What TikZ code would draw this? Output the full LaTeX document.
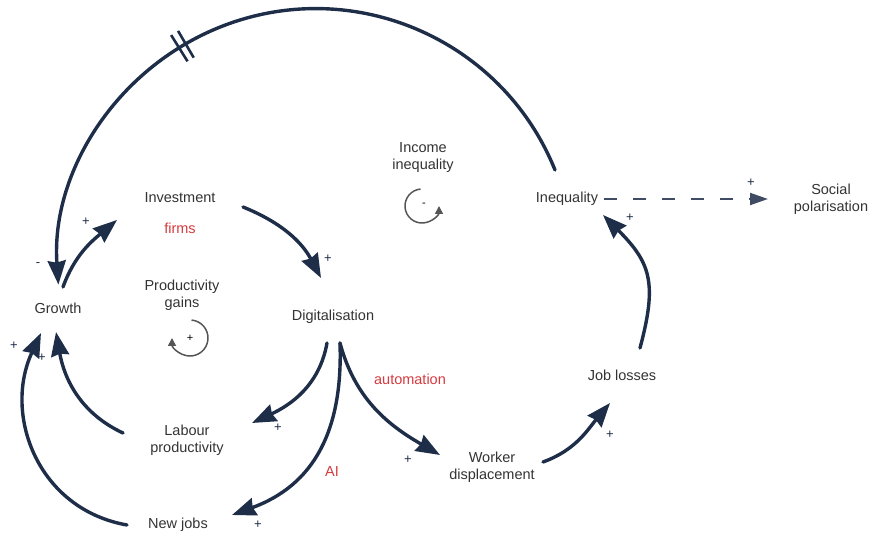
\documentclass[tikz,border=0pt]{standalone}
\usepackage{fontspec}
\setmainfont{Liberation Sans}
\usetikzlibrary{arrows.meta}

\definecolor{navy}{HTML}{1E2D48}
\definecolor{ink}{HTML}{333333}
\definecolor{note}{HTML}{D63A3E}
\definecolor{ring}{HTML}{555555}

\begin{document}
\begin{tikzpicture}[x=1pt,y=1pt,
  var/.style={align=center, font=\fontsize{14.5}{17}\selectfont, text=ink, inner sep=0pt},
  tag/.style={font=\fontsize{14.5}{17}\selectfont, text=note, inner sep=0pt},
  sign/.style={font=\fontsize{13}{13}\selectfont, text=navy, inner sep=0pt},
  ringsign/.style={font=\fontsize{11}{11}\selectfont, text=black, inner sep=0pt},
  link/.style={draw=navy, line width=3.4pt, line cap=round,
    -{Stealth[length=24pt 0,width=18pt 0,inset=2pt]}},
  weak/.style={draw=navy!85, line width=2pt, dash pattern=on 13pt off 16pt,
    -{Triangle[length=18pt 0,width=12pt 0]}},
  hash/.style={draw=navy, line width=2.6pt},
  ringline/.style={draw=ring, line width=1.5pt, -{Triangle[length=8pt 0,width=8pt 0]}}
]
\useasboundingbox (0,0) rectangle (871,536);

% variables
\node[var] (growth) at (58,228) {Growth};
\node[var] (invest) at (180,338) {Investment};
\node[tag] (firms)  at (180,308) {firms};
\node[var] (pgains) at (182,241) {Productivity\\gains};
\node[var] (digi)   at (333,219) {Digitalisation};
\node[tag] (autom)  at (410,157) {automation};
\node[var] (labour) at (187,96) {Labour\\productivity};
\node[tag] (ai)     at (332,64) {AI};
\node[var] (newjobs) at (178,11) {New jobs};
\node[var] (worker) at (492,69) {Worker\\displacement};
\node[var] (joblos) at (622,161) {Job losses};
\node[var] (ineq)   at (567,337) {Inequality};
\node[var] (social) at (831,337) {Social\\polarisation};
\node[var] (income) at (423,378) {Income\\inequality};

% loop markers
\coordinate (pg-ring) at (190,198);
\coordinate (ii-ring) at (422,330);
\draw[ringline] ([shift={(85:18)}]pg-ring) arc[start angle=85, end angle=-180, radius=18];
\node[ringsign] (pg-sign) at (pg-ring) {+};
\draw[ringline] ([shift={(95:17)}]ii-ring) arc[start angle=95, end angle=360, radius=17];
\node[ringsign] (ii-sign) at (424,331) {-};

% long delayed link from inequality back to growth
\coordinate (arc-start) at ([shift={(-12,29)}]ineq.center);
\coordinate (arc-ctr) at ([shift={(-239.2,-96.6)}]arc-start);
\draw[link] (arc-start) arc[start angle=22, end angle=184, radius=258];
\foreach \a in {120.3,122.0}
  \draw[hash] ([shift={(\a:242)}]arc-ctr) -- ([shift={(\a:273)}]arc-ctr);

% causal links
\draw[link] ([shift={(5,21)}]growth.center) to[out=70, in=-140] ([shift={(-63,-22)}]invest.center);
\draw[link] ([shift={(63,-9)}]invest.center) to[out=-22, in=118] ([shift={(-12,39)}]digi.center);
\draw[link] ([shift={(-6,-26)}]digi.center) to[out=-100, in=25] ([shift={(65,17)}]labour.center);
\draw[link] ([shift={(7,-26)}]digi.center) to[out=-88, in=20, looseness=1.1] ([shift={(54,10)}]newjobs.center);
\draw[link] ([shift={(7,-26)}]digi.center) to[out=-75, in=150] ([shift={(-52,12)}]worker.center);
\draw[link] ([shift={(51,5)}]worker.center) to[out=20, in=230] ([shift={(-12,-28)}]joblos.center);
\draw[link] ([shift={(18,27)}]joblos.center) to[out=75, in=-45, looseness=1.25] ([shift={(36,-16)}]ineq.center);
\draw[link] ([shift={(-64,7)}]labour.center) to[out=155, in=-80] ([shift={(-2,-24)}]growth.center);
\draw[link] ([shift={(-51,0)}]newjobs.center) to[out=170, in=-115, looseness=1.1] ([shift={(-17,-25)}]growth.center);
\draw[weak] ([shift={(37,0)}]ineq.center) -- ([shift={(-63,0)}]social.center);

% polarities
\node[sign] (s-arc)  at (38,271) {-};
\node[sign] (s-inv)  at (86,314) {+};
\node[sign] (s-dig)  at (328,277) {+};
\node[sign] (s-nj-g) at (14,190) {+};
\node[sign] (s-lp-g) at (42,178) {+};
\node[sign] (s-lp)   at (278,108) {+};
\node[sign] (s-nj)   at (258,11) {+};
\node[sign] (s-wd)   at (408,76) {+};
\node[sign] (s-jl)   at (610,101) {+};
\node[sign] (s-ineq) at (630,318) {+};
\node[sign] (s-soc)  at (751,353) {+};
\end{tikzpicture}
\end{document}
